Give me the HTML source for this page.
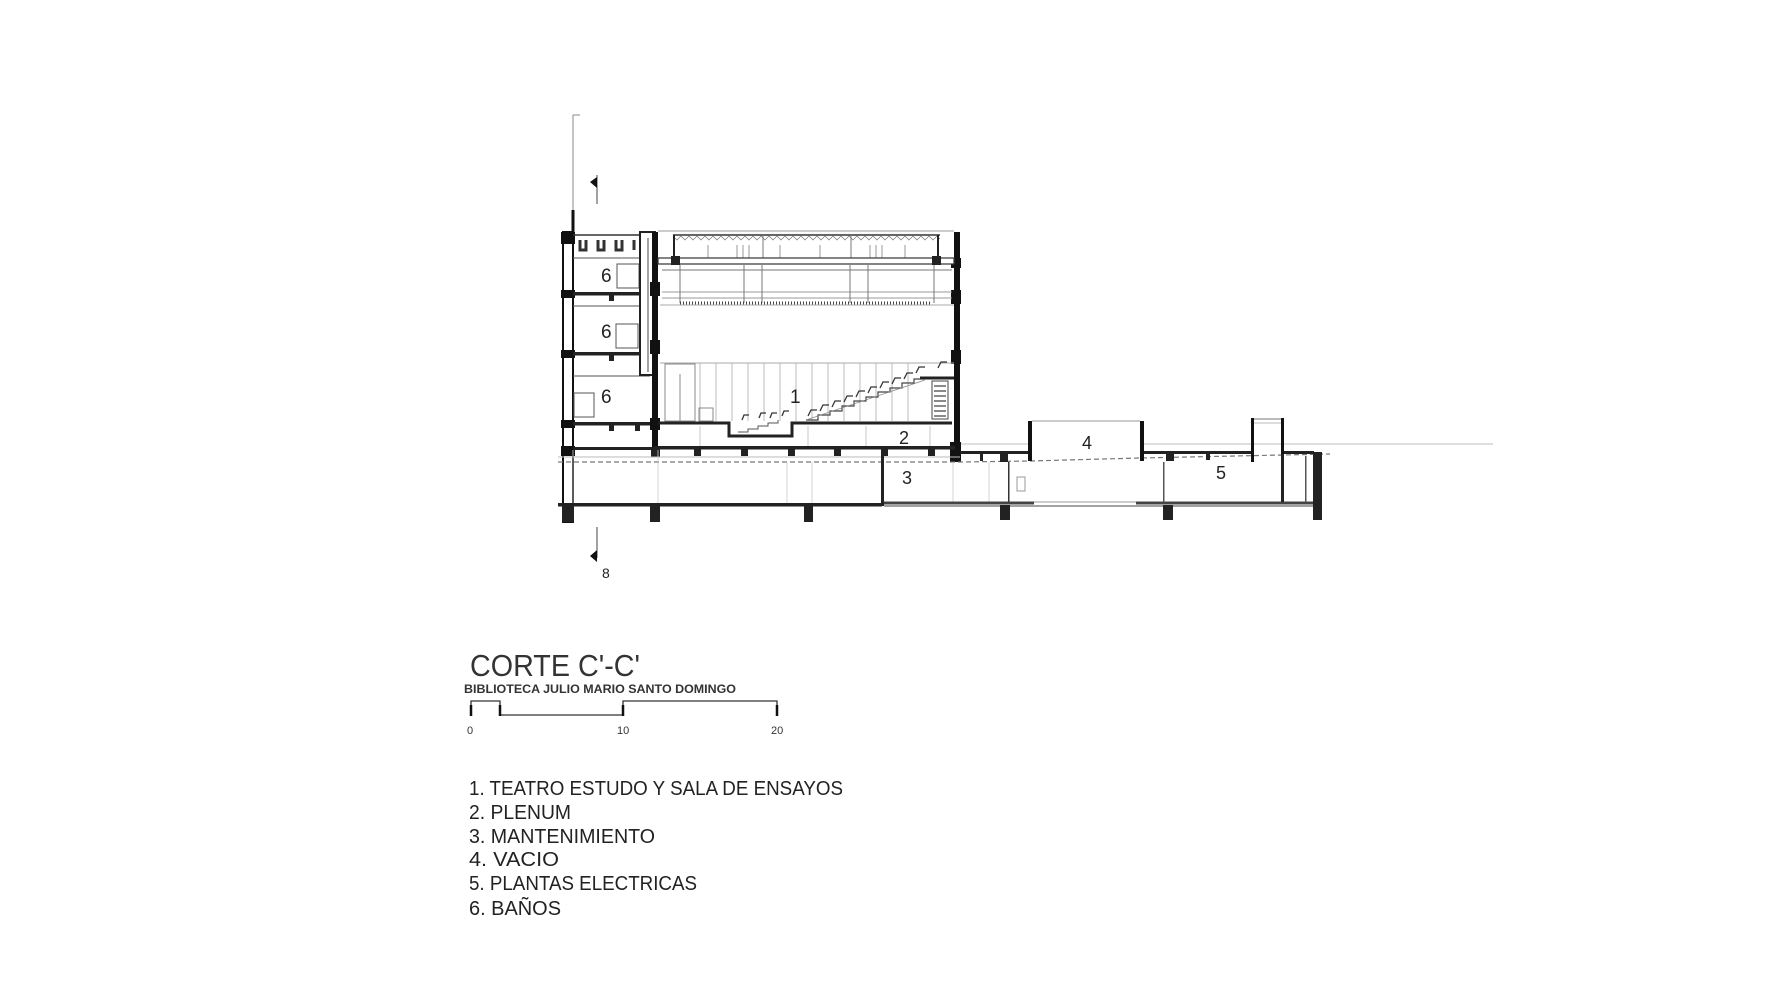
<!DOCTYPE html>
<html><head><meta charset="utf-8"><style>
html,body{margin:0;padding:0;background:#fff;}
svg{display:block;}
</style></head><body>
<svg width="1776" height="1006" viewBox="0 0 1776 1006" xmlns="http://www.w3.org/2000/svg" font-family="'Liberation Sans', sans-serif">
<defs><clipPath id="cz"><rect x="673" y="230" width="267" height="20"/></clipPath></defs>
<rect width="1776" height="1006" fill="#fff"/>
<!-- section line markers -->
<line x1="573" y1="115" x2="573" y2="210" stroke="#888" stroke-width="1"/>
<line x1="573" y1="115" x2="580" y2="115" stroke="#888" stroke-width="1"/>
<line x1="573" y1="210" x2="573" y2="234" stroke="#111" stroke-width="3"/>
<line x1="597" y1="175" x2="597" y2="204" stroke="#444" stroke-width="1"/>
<polygon points="590,182 597,177 597,188" fill="#111"/>
<line x1="597" y1="527" x2="597" y2="558" stroke="#444" stroke-width="1"/>
<polygon points="590,556 597,550 597,562" fill="#111"/>
<text x="602" y="578" font-size="14" fill="#222">8</text>

<!-- horizon line -->
<line x1="1144" y1="444" x2="1493" y2="444" stroke="#ccc" stroke-width="1.2"/>
<line x1="960" y1="444" x2="1029" y2="444" stroke="#ccc" stroke-width="1.2"/>

<!-- toilets block -->
<rect x="563" y="232" width="10" height="290" fill="#fff" stroke="#111" stroke-width="2"/>
<rect x="561" y="232" width="14" height="12" fill="#111"/>
<rect x="561" y="290" width="14" height="8" fill="#111"/>
<rect x="561" y="350" width="14" height="8" fill="#111"/>
<rect x="561" y="420" width="14" height="8" fill="#111"/>
<rect x="561" y="446" width="14" height="10" fill="#111"/>
<line x1="573" y1="235" x2="642" y2="235" stroke="#333" stroke-width="1.5"/>
<path d="M580 240 v10 h6 v-10 M598 240 v10 h6 v-10 M616 240 v10 h6 v-10 M634 240 v10" fill="none" stroke="#333" stroke-width="3"/>
<line x1="573" y1="258" x2="640" y2="258" stroke="#555" stroke-width="1"/>
<rect x="573" y="292" width="68" height="3.5" fill="#222"/>
<rect x="573" y="352" width="68" height="3.5" fill="#222"/>
<rect x="573" y="422" width="82" height="3.5" fill="#222"/>
<rect x="609" y="295" width="5" height="6" fill="#222"/>
<rect x="609" y="355" width="5" height="6" fill="#222"/>
<rect x="609" y="425" width="5" height="6" fill="#222"/>
<rect x="635" y="425" width="5" height="6" fill="#222"/>
<line x1="573" y1="306" x2="640" y2="306" stroke="#555" stroke-width="1"/>
<line x1="573" y1="376" x2="650" y2="376" stroke="#555" stroke-width="1"/>
<path d="M617 264 h22 v24 h-22 z M616 324 h22 v24 h-22 z M574 393 h20 v24 h-20 z" fill="none" stroke="#555" stroke-width="1"/>
<rect x="640" y="232" width="15" height="143" fill="#fff" stroke="#222" stroke-width="2"/>
<line x1="648" y1="238" x2="648" y2="372" stroke="#444" stroke-width="1"/>
<text x="601" y="282" font-size="19" fill="#222">6</text>
<text x="601" y="338" font-size="19" fill="#222">6</text>
<text x="601" y="403" font-size="19" fill="#222">6</text>

<!-- theatre walls -->
<rect x="652" y="232" width="6" height="218" fill="#111"/>
<rect x="650" y="282" width="10" height="14" fill="#111"/>
<rect x="650" y="340" width="10" height="14" fill="#111"/>
<rect x="650" y="418" width="10" height="12" fill="#111"/>
<rect x="954" y="232" width="6" height="230" fill="#111"/>
<rect x="951" y="258" width="10" height="10" fill="#111"/>
<rect x="951" y="290" width="10" height="14" fill="#111"/>
<rect x="951" y="350" width="10" height="14" fill="#111"/>
<rect x="950" y="442" width="11" height="20" fill="#111"/>
<!-- roof -->
<line x1="658" y1="231" x2="954" y2="231" stroke="#999" stroke-width="1"/>
<line x1="673" y1="235" x2="940" y2="235" stroke="#333" stroke-width="1.5"/>
<g clip-path="url(#cz)">
<path d="M673 236 l4 4 l4 -4 l4 4 l4 -4 l4 4 l4 -4 l4 4 l4 -4 l4 4 l4 -4 l4 4 l4 -4 l4 4 l4 -4 l4 4 l4 -4 l4 4 l4 -4 l4 4 l4 -4 l4 4 l4 -4 l4 4 l4 -4 l4 4 l4 -4 l4 4 l4 -4 l4 4 l4 -4 l4 4 l4 -4 l4 4 l4 -4 l4 4 l4 -4 l4 4 l4 -4 l4 4 l4 -4 l4 4 l4 -4 l4 4 l4 -4 l4 4 l4 -4 l4 4 l4 -4 l4 4 l4 -4 l4 4 l4 -4 l4 4 l4 -4 l4 4 l4 -4 l4 4 l4 -4 l4 4 l4 -4 l4 4 l4 -4 l4 4 l4 -4 l4 4 l4 -4 l4 4 l4 -4 l4 4 l4 -4 l4 4 l4 -4 l4 4 l4 -4 l4 4 l4 -4 l4 4 l4 -4 l4 4 l4 -4 l4 4 l4 -4 l4 4 l4 -4 l4 4 l4 -4 l4 4 l4 -4 l4 4 l4 -4" fill="none" stroke="#777" stroke-width="0.7"/>
</g>
<line x1="674" y1="235" x2="674" y2="262" stroke="#222" stroke-width="2"/>
<line x1="938" y1="235" x2="938" y2="262" stroke="#222" stroke-width="2"/>
<line x1="763" y1="235" x2="763" y2="262" stroke="#777" stroke-width="1"/>
<line x1="851" y1="235" x2="851" y2="262" stroke="#777" stroke-width="1"/>
<path d="M737 245 v15 M743 245 v15 M749 245 v15 M870 245 v15 M876 245 v15 M882 245 v15 M708 245 v15 M780 245 v15 M820 245 v15 M905 245 v15" stroke="#999" stroke-width="1"/>
<rect x="658" y="258" width="296" height="6" fill="#fff" stroke="#333" stroke-width="1.2"/>
<rect x="671" y="256" width="9" height="9" fill="#222"/>
<rect x="932" y="256" width="9" height="9" fill="#222"/>
<line x1="662" y1="270" x2="952" y2="270" stroke="#777" stroke-width="1"/>
<line x1="662" y1="292" x2="952" y2="292" stroke="#999" stroke-width="1"/>
<line x1="662" y1="298" x2="952" y2="298" stroke="#999" stroke-width="1"/>
<path d="M680 265 v38 M744 265 v38 M762 265 v38 M850 265 v38 M868 265 v38 M934 265 v38" stroke="#777" stroke-width="1"/>
<line x1="680" y1="303" x2="930" y2="303" stroke="#444" stroke-width="3" stroke-dasharray="1 2"/>
<line x1="660" y1="305" x2="954" y2="305" stroke="#aaa" stroke-width="1"/>
<!-- theatre wall panels -->
<line x1="660" y1="363" x2="954" y2="363" stroke="#aaa" stroke-width="1"/>
<g stroke="#aaa" stroke-width="0.8">
<line x1="700" y1="363" x2="700" y2="421"/><line x1="716" y1="363" x2="716" y2="421"/><line x1="732" y1="363" x2="732" y2="421"/><line x1="748" y1="363" x2="748" y2="421"/><line x1="764" y1="363" x2="764" y2="421"/><line x1="780" y1="363" x2="780" y2="421"/><line x1="796" y1="363" x2="796" y2="421"/><line x1="812" y1="363" x2="812" y2="421"/><line x1="828" y1="363" x2="828" y2="421"/><line x1="844" y1="363" x2="844" y2="421"/><line x1="860" y1="363" x2="860" y2="421"/><line x1="876" y1="363" x2="876" y2="421"/><line x1="892" y1="363" x2="892" y2="421"/><line x1="908" y1="363" x2="908" y2="421"/>
</g>
<rect x="665" y="364" width="30" height="57" fill="none" stroke="#888" stroke-width="1"/>
<line x1="680" y1="374" x2="680" y2="421" stroke="#888" stroke-width="1"/>
<rect x="699" y="408" width="14" height="13" fill="none" stroke="#888" stroke-width="1"/>
<text x="790" y="403" font-size="19" fill="#222">1</text>
<!-- floor and pit -->
<path d="M658 423 H729 V436 H792 V423 H952" fill="none" stroke="#222" stroke-width="3"/>
<path d="M738 432 h10 v-3 h10 v-3 h10 v-3 h10 v-3" fill="none" stroke="#555" stroke-width="1"/>
<!-- seating -->
<path d="M806 420 h12 v-5 h12 v-4 h12 v-5 h12 v-5 h12 v-4 h12 v-5 h12 v-4 h12 v-5 h12 v-4 h10" fill="none" stroke="#444" stroke-width="1.2"/>
<line x1="806" y1="420" x2="925" y2="380" stroke="#888" stroke-width="0.8"/>
<g fill="none" stroke="#333" stroke-width="1.3">
<path d="M742 420 l2 -5 l5 0 M759 418 l2 -5 l5 0 M770 418 l2 -5 l5 0 M782 416 l2 -5 l5 0"/>
<path d="M808 416 l3 -6 l6 0 M820 411 l3 -6 l6 0 M832 407 l3 -6 l6 0 M844 402 l3 -6 l6 0 M856 397 l3 -6 l6 0 M868 393 l3 -6 l6 0 M880 388 l3 -6 l6 0 M892 384 l3 -6 l6 0 M904 379 l3 -6 l6 0 M916 373 l3 -6 l6 0 M938 368 l3 -6 l6 0"/>
</g>
<path d="M920 378 H954" stroke="#222" stroke-width="3"/>
<rect x="932" y="381" width="16" height="38" fill="none" stroke="#444" stroke-width="1"/>
<path d="M934 386 h12 M934 391 h12 M934 396 h12 M934 401 h12 M934 406 h12 M934 411 h12 M934 416 h12" stroke="#444" stroke-width="1.2"/>
<!-- plenum -->
<g stroke="#bbb" stroke-width="0.8"><line x1="700" y1="426" x2="700" y2="447"/><line x1="808" y1="426" x2="808" y2="447"/><line x1="866" y1="426" x2="866" y2="447"/><line x1="930" y1="426" x2="930" y2="447"/></g>
<text x="899" y="444" font-size="18" fill="#222">2</text>
<rect x="655" y="446" width="300" height="3.5" fill="#222"/>
<rect x="573" y="447" width="82" height="3" fill="#222"/>
<g fill="#222"><rect x="651" y="448" width="9" height="9"/><rect x="694" y="448" width="7" height="8"/><rect x="741" y="448" width="7" height="8"/><rect x="788" y="448" width="7" height="8"/><rect x="834" y="448" width="7" height="8"/><rect x="881" y="448" width="7" height="8"/><rect x="928" y="448" width="7" height="8"/></g>
<line x1="558" y1="457" x2="960" y2="457" stroke="#bbb" stroke-width="1"/>
<!-- dashed ground -->
<path d="M558 462 H960 L1030 461 L1140 458 L1330 454" fill="none" stroke="#777" stroke-width="1.2" stroke-dasharray="5 3"/>
<!-- lower level -->
<g stroke="#ccc" stroke-width="0.8"><line x1="573" y1="450" x2="573" y2="503"/><line x1="658" y1="450" x2="658" y2="503"/><line x1="787" y1="462" x2="787" y2="503"/><line x1="812" y1="462" x2="812" y2="503"/><line x1="953" y1="462" x2="953" y2="503"/><line x1="989" y1="462" x2="989" y2="503"/></g>
<rect x="558" y="503" width="324" height="3.5" fill="#222"/>
<rect x="881" y="448" width="3" height="58" fill="#222"/>
<text x="902" y="484" font-size="18" fill="#222">3</text>
<path d="M884 503 H1034 M1136 503 H1315" stroke="#444" stroke-width="3"/>
<path d="M884 506 H1315" stroke="#444" stroke-width="1"/>
<line x1="1034" y1="502" x2="1136" y2="502" stroke="#999" stroke-width="1"/>
<g fill="#222"><rect x="562" y="505" width="12" height="17"/><rect x="650" y="505" width="10" height="17"/><rect x="804" y="505" width="9" height="17"/><rect x="1000" y="505" width="10" height="15"/><rect x="1163" y="505" width="10" height="15"/><rect x="1313" y="452" width="9" height="68"/></g>
<!-- right low block roof -->
<rect x="960" y="451" width="70" height="3" fill="#222"/>
<rect x="1144" y="451" width="108" height="3" fill="#222"/>
<rect x="1284" y="451" width="30" height="3" fill="#222"/>
<g fill="#222"><rect x="980" y="453" width="3" height="8"/><rect x="1000" y="453" width="8" height="9"/><rect x="1166" y="453" width="8" height="8"/><rect x="1206" y="453" width="4" height="7"/></g>
<rect x="1008" y="462" width="1.5" height="40" fill="#333"/>
<rect x="1163" y="462" width="1.5" height="40" fill="#555"/>
<rect x="1281" y="454" width="3" height="48" fill="#222"/>
<rect x="1305" y="456" width="1.5" height="46" fill="#555"/>
<rect x="1017" y="477" width="8" height="14" fill="none" stroke="#999" stroke-width="1"/>
<!-- box 4 -->
<rect x="1028" y="421" width="4" height="40" fill="#111"/>
<rect x="1140" y="421" width="4" height="40" fill="#111"/>
<line x1="1032" y1="421" x2="1140" y2="421" stroke="#999" stroke-width="1"/>
<text x="1082" y="449" font-size="18" fill="#222">4</text>
<!-- chimney -->
<rect x="1251" y="418" width="3" height="44" fill="#111"/>
<rect x="1281" y="418" width="3" height="36" fill="#111"/>
<line x1="1254" y1="419" x2="1281" y2="419" stroke="#777" stroke-width="1"/>
<line x1="1254" y1="423" x2="1281" y2="423" stroke="#bbb" stroke-width="1"/>
<text x="1216" y="479" font-size="18" fill="#222">5</text>

<!-- title -->
<text x="470" y="676" font-size="31" fill="#333" textLength="170" lengthAdjust="spacingAndGlyphs">CORTE C'-C'</text>
<text x="464" y="693" font-size="11.5" font-weight="bold" fill="#333" textLength="272" lengthAdjust="spacingAndGlyphs">BIBLIOTECA JULIO MARIO SANTO DOMINGO</text>
<path d="M471 716 V701 H500 V715 H623 V701 H777 V716" fill="none" stroke="#333" stroke-width="1.3"/>
<path d="M471 705 V716 M500 705 V716 M623 705 V716 M777 705 V716" stroke="#111" stroke-width="2.5"/>
<text x="467" y="734" font-size="11" fill="#333">0</text>
<text x="617" y="734" font-size="11" fill="#333">10</text>
<text x="771" y="734" font-size="11" fill="#333">20</text>
<g font-size="20" fill="#222">
<text x="469" y="795" textLength="374" lengthAdjust="spacingAndGlyphs">1. TEATRO ESTUDO Y SALA DE ENSAYOS</text>
<text x="469" y="819" textLength="102" lengthAdjust="spacingAndGlyphs">2. PLENUM</text>
<text x="469" y="843" textLength="186" lengthAdjust="spacingAndGlyphs">3. MANTENIMIENTO</text>
<text x="469" y="866" textLength="90" lengthAdjust="spacingAndGlyphs">4. VACIO</text>
<text x="469" y="890" textLength="228" lengthAdjust="spacingAndGlyphs">5. PLANTAS ELECTRICAS</text>
<text x="469" y="915" textLength="92" lengthAdjust="spacingAndGlyphs">6. BAÑOS</text>
</g>
</svg>
</body></html>
